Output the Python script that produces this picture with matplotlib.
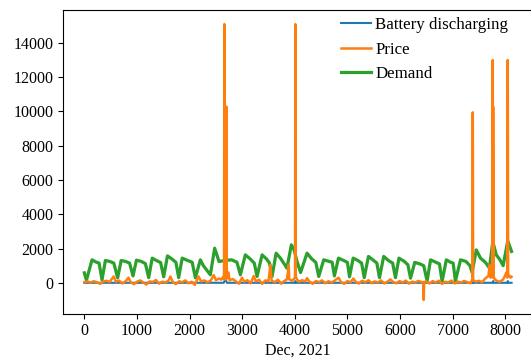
import matplotlib
matplotlib.use("Agg")
import matplotlib.pyplot as plt

plt.rcParams['font.family'] = ['Liberation Serif', 'DejaVu Serif']
plt.rcParams['font.size'] = 11.5

# Demand (MW), breakpoints (index within the month)
demand_x = [0, 40, 146, 230, 280, 336, 400, 480, 560, 633, 700, 780, 860, 925,
            990, 1080, 1160, 1223, 1290, 1370, 1450, 1508, 1580, 1660, 1740, 1793,
            1860, 1950, 2050, 2110, 2205, 2262, 2395, 2477, 2560, 2660, 2800, 2900,
            2966, 3060, 3150, 3230, 3283, 3378, 3460, 3520, 3568, 3645, 3726, 3821,
            3850, 3935, 3990, 4043, 4110, 4233, 4320, 4400, 4455, 4550, 4650, 4710,
            4753, 4830, 4930, 5000, 5040, 5110, 5200, 5270, 5320, 5400, 5500, 5560,
            5610, 5690, 5780, 5860, 5913, 5980, 6080, 6150, 6200, 6280, 6380, 6450,
            6515, 6580, 6680, 6750, 6800, 6880, 6960, 7010, 7053, 7150, 7250, 7330,
            7370, 7450, 7530, 7620, 7680, 7700, 7763, 7830, 7900, 7960, 8048, 8120]
demand_y = [580, 150, 1340, 1200, 1150, 175, 1300, 1250, 1150, 290, 1300, 1250, 1150, 400,
            1320, 1250, 1120, 300, 1440, 1300, 1180, 350, 1570, 1400, 1200, 300,
            1440, 1320, 1200, 290, 1340, 1000, 466, 2020, 1240, 1300, 1340, 1200,
            466, 1630, 1400, 1150, 370, 1630, 1400, 1150, 370, 1730, 1440, 1000,
            850, 2215, 1900, 1240, 600, 1730, 1400, 1190, 370, 1340, 1250, 1200,
            400, 1440, 1300, 1190, 350, 1440, 1300, 1150, 300, 1540, 1300, 1150,
            300, 1540, 1300, 1150, 300, 1440, 1250, 1050, 270, 1190, 1100, 1000,
            100, 1340, 1200, 1100, 80, 1340, 1200, 1150, 100, 1340, 1250, 1000,
            600, 1920, 1440, 1200, 950, 860, 2410, 1630, 1340, 1000, 2450, 1830]

# Price ($/MWh)
price_x = [0, 60, 120, 180, 240, 300, 360, 420, 480, 557, 600, 660, 720, 780, 840, 880,
           940, 1000, 1060, 1120, 1180, 1240, 1300, 1360, 1420, 1480, 1540, 1600, 1635,
           1680, 1740, 1800, 1860, 1920, 1980, 2040, 2100, 2170, 2220, 2280, 2340, 2400,
           2460, 2500, 2560, 2600, 2640, 2655, 2662, 2668, 2690, 2700, 2708, 2740, 2760,
           2820, 2880, 2940, 2997, 3040, 3100, 3160, 3220, 3260, 3320, 3380, 3440, 3500,
           3536, 3560, 3620, 3680, 3740, 3800, 3850, 3878, 3884, 3895, 3950, 4005, 4011,
           4018, 4040, 4080, 4140, 4200, 4233, 4280, 4340, 4400, 4460, 4520, 4580, 4640,
           4700, 4760, 4830, 4880, 4940, 5000, 5060, 5114, 5160, 5220, 5280, 5340, 5400,
           5460, 5520, 5580, 5640, 5700, 5760, 5817, 5870, 5930, 5990, 6050, 6110, 6170,
           6230, 6290, 6350, 6420, 6445, 6451, 6458, 6500, 6560, 6620, 6680, 6740, 6800,
           6860, 6920, 6980, 7040, 7100, 7160, 7220, 7280, 7340, 7376, 7383, 7390, 7440,
           7500, 7560, 7620, 7680, 7705, 7720, 7740, 7755, 7763, 7767, 7770, 7778, 7800,
           7850, 7900, 7960, 7990, 8020, 8040, 8048, 8055, 8080, 8100, 8120]
price_y = [40, 80, 20, 90, 30, -60, 70, 120, 50, 370, 60, 130, -40, 80, 300, 40,
           -80, 60, 140, 20, -100, 80, 50, 160, -50, 70, 20, 120, 370,
           50, -80, 90, 30, 140, -30, 60, -120, 370, 80, 140, 30, 120,
           450, 150, 250, 180, 350, 200, 15100, 300, 200, 10280, 250, 600, 150,
           220, 80, -50, 300, 60, 150, -30, 400, 80, 180, -60, 140, 90,
           1050, 120, 40, 180, -50, 100, 200, 800, 1050, 200, 120, 300, 15100,
           400, 200, 60, 150, 80, 272, 60, -60, 100, 40, 140, -30, 90,
           20, 130, 300, 40, -60, 100, 30, 250, 50, -40, 120, 30, 150,
           -20, 80, 20, 140, -40, 60, 200, 40, -30, 100, 20, 130, -50,
           70, 20, 110, 30, 50, -1000, 40, 80, -40, 100, 20, 120, -60,
           60, 30, 130, -40, 70, 20, 110, 40, -30, 200, 9950, 150, 60,
           120, 30, 250, 400, 1050, 300, 600, 500, 13000, 300, 10280, 400, 200,
           100, 60, 200, 370, 600, 300, 13000, 500, 400, 300, 350]

# Battery discharging (MW)
battery_x = [0, 2650, 2662, 2700, 2710, 4000, 4011, 4020, 7376, 7383, 7390,
             7755, 7770, 7780, 8040, 8048, 8060, 8120]
battery_y = [0, 0, 100, 100, 0, 0, 100, 0, 0, 100, 0,
             0, 100, 0, 0, 100, 0, 0]

fig = plt.figure(figsize=(5.31, 3.58), dpi=100)
ax = fig.add_axes([0.1186, 0.1237, 0.885, 0.8475])

ax.plot(battery_x, battery_y, color='tab:blue', linewidth=1.5, label='Battery discharging', zorder=2)
ax.plot(price_x, price_y, color='tab:orange', linewidth=1.8, label='Price', zorder=4)
ax.plot(demand_x, demand_y, color='tab:green', linewidth=2.3, label='Demand', zorder=3)

ax.set_xticks([0, 1000, 2000, 3000, 4000, 5000, 6000, 7000, 8000])
ax.set_yticks([0, 2000, 4000, 6000, 8000, 10000, 12000, 14000])
ax.set_xlabel('Dec, 2021', labelpad=2)

ax.legend(loc='upper right', bbox_to_anchor=(0.962, 1.0), frameon=False, fontsize=12.2,
          handlelength=1.8, borderaxespad=0.0, labelspacing=0.5, handletextpad=0.25)

fig.savefig('out.png', dpi=100)
